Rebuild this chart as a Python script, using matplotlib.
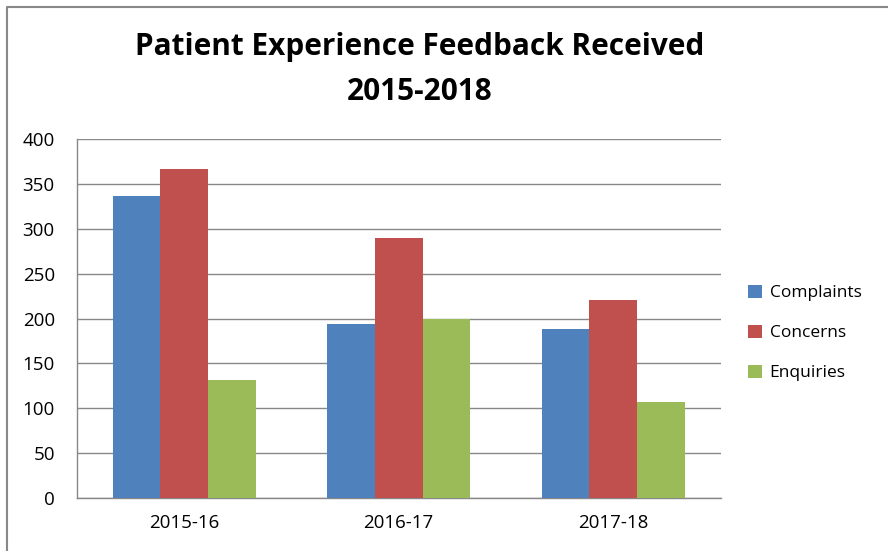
import numpy as np
import matplotlib.pyplot as plt
from matplotlib.lines import Line2D

plt.rcParams['font.family'] = ['Open Sans', 'DejaVu Sans']

years = ['2015-16', '2016-17', '2017-18']
complaints = [337, 194, 188]
concerns = [367, 290, 221]
enquiries = [131, 199, 107]

series = ['Complaints', 'Concerns', 'Enquiries']
colors = ['#4f81bd', '#c0504d', '#9bbb59']

fig = plt.figure(figsize=(8.88, 5.51), dpi=100)
ax = fig.add_axes([77 / 888, 1 - 497.7 / 551, (720.5 - 77) / 888, 358.4 / 551])

x = np.arange(len(years))
w = 1 / 4.5
for i, (vals, name, c) in enumerate(zip([complaints, concerns, enquiries], series, colors)):
    ax.bar(x + (i - 1) * w, vals, width=w, color=c, label=name, zorder=3)

ax.set_xlim(-0.5, 2.5)
ax.set_ylim(0, 400)
ax.set_yticks(range(0, 401, 50))
ax.set_xticks(x)
ax.set_xticklabels(years)
ax.tick_params(axis='both', length=0, labelsize=13.5)
ax.tick_params(axis='x', pad=12)
ax.tick_params(axis='y', pad=16)
ax.grid(axis='y', color='#888888', linewidth=1, zorder=0)
for s in ['top', 'right']:
    ax.spines[s].set_visible(False)
for s in ['left', 'bottom']:
    ax.spines[s].set_color('#888888')
    ax.spines[s].set_linewidth(1)

fig.text(420 / 888, 1 - 47 / 551, 'Patient Experience Feedback Received',
         ha='center', va='center', fontsize=21.4, fontweight='bold')
fig.text(420 / 888, 1 - 92 / 551, '2015-2018',
         ha='center', va='center', fontsize=21.4, fontweight='bold')

ax.legend(loc='center left', bbox_to_anchor=(748 / 888, 1 - 333 / 551),
          bbox_transform=fig.transFigure, frameon=False, fontsize=12.5,
          handlelength=0.8, handleheight=0.8, handletextpad=0.45, labelspacing=1.35,
          borderaxespad=0, borderpad=0)

# outer chart border (only left and top edges visible in the crop)
fig.lines.append(Line2D([6.5 / 888, 6.5 / 888, 1], [0, 1 - 6.5 / 551, 1 - 6.5 / 551],
                        transform=fig.transFigure, color='#888888', linewidth=1.5))

fig.savefig('out.png', dpi=100)
